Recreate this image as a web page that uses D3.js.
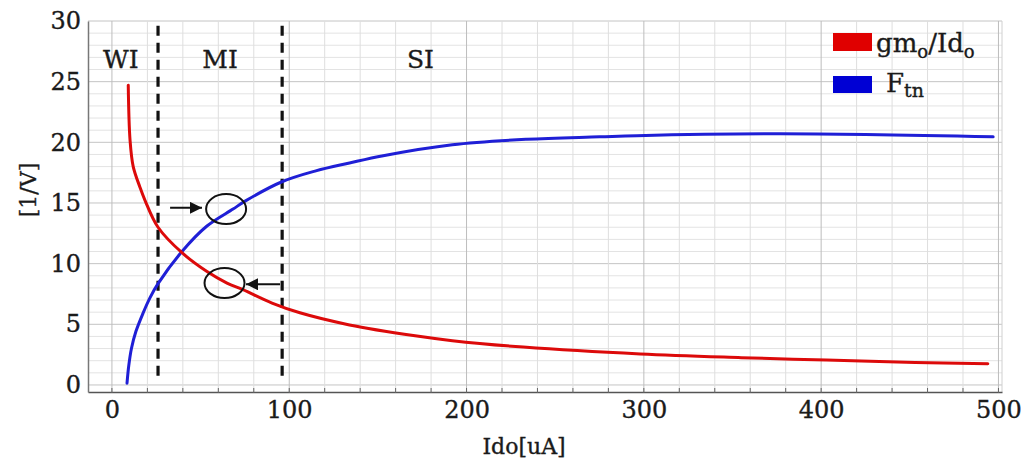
<!DOCTYPE html>
<html>
<head>
<meta charset="utf-8">
<script src="https://cdn.jsdelivr.net/npm/d3@7"></script>
<style>
  body { margin: 0; background: #fff; }
  svg { display: block; }
  text { font-family: "DejaVu Serif", "Liberation Serif", serif; fill: #1a1a1a; stroke: #1a1a1a; stroke-width: 0.35px; }
</style>
</head>
<body>
<svg id="chart"></svg>
<script>
// ---- data ----
// gm/Id curve (red)
const gmX = [9.2, 10.2, 12.0, 15.8, 18.7, 26, 39.5, 53.6, 64.9, 73.9, 90.3, 106, 134, 171, 192, 232, 298, 355, 403, 453, 494];
const gmY = [24.7, 20.2, 18.0, 16.3, 15.2, 13.0, 10.9, 9.35, 8.4, 7.85, 6.75, 5.95, 4.95, 4.05, 3.65, 3.12, 2.55, 2.25, 2.05, 1.85, 1.75];
// Ftn curve (blue)
const ftX = [8.5, 9.5, 11, 13.5, 17.5, 21.5, 26, 39.5, 53.6, 68.3, 75.1, 95.9, 115, 134, 153, 192, 234, 275, 296, 377, 497];
const ftY = [0.15, 1.6, 3.0, 4.4, 5.9, 7.2, 8.35, 11.0, 13.1, 14.5, 15.15, 16.75, 17.65, 18.3, 18.9, 19.8, 20.25, 20.45, 20.55, 20.7, 20.45];

const xTicks = [0, 100, 200, 300, 400, 500];
const yTicks = [0, 5, 10, 15, 20, 25, 30];

// region boundaries (dashed) and labels
const boundaries = [26, 96];
const regionNames = ["WI", "MI", "SI"];
const regionX = [5, 61, 174];

// circled points + arrows
const circleX = [64.4, 63.5];
const circleY = [14.5, 8.4];
const arrowFrom = [32.8, 94.8];
const arrowTo = [50.8, 75.6];
const arrowY = [14.6, 8.3];

const W = 1029, H = 464;
const red = "#dc0a0a", blue = "#1f1fd6";

const svg = d3.select("#chart").attr("width", W).attr("height", H);

const x = d3.scaleLinear().domain([-13.5, 502]).range([88, 1002]);
const y = d3.scaleLinear().domain([-0.58, 30]).range([392, 21]);

// grid
const grid = svg.append("g");
grid.selectAll(".hg").data(d3.range(0, 31, 1)).join("line")
  .attr("x1", x.range()[0]).attr("x2", x.range()[1])
  .attr("y1", d => y(d)).attr("y2", d => y(d))
  .attr("stroke", d => d % 5 === 0 ? "#c4c4c4" : "#e3e3e3")
  .attr("stroke-width", 1);
grid.selectAll(".vg").data(d3.range(0, 501, 20)).join("line")
  .attr("x1", d => x(d)).attr("x2", d => x(d))
  .attr("y1", y(30)).attr("y2", y.range()[0])
  .attr("stroke", d => d % 100 === 0 ? "#bdbdbd" : "#dedede")
  .attr("stroke-width", 1);
grid.append("line")
  .attr("x1", x.range()[1]).attr("x2", x.range()[1])
  .attr("y1", y(30)).attr("y2", y.range()[0])
  .attr("stroke", "#d0d0d0");

// axes
const xAxis = d3.axisBottom(x).tickValues(xTicks).tickSize(0).tickPadding(6);
const gx = svg.append("g").attr("transform", `translate(0,${y.range()[0]})`).call(xAxis);
gx.select(".domain").attr("stroke", "#555").attr("stroke-width", 1.5);
gx.selectAll(".tick text").attr("font-size", 24).attr("font-family", "DejaVu Serif").attr("fill", "#1a1a1a").attr("dy", "0.85em");

// small minor ticks on x axis
svg.append("g").selectAll("line").data(d3.range(0, 501, 20)).join("line")
  .attr("x1", d => x(d)).attr("x2", d => x(d))
  .attr("y1", y.range()[0] - 4).attr("y2", y.range()[0] + 1)
  .attr("stroke", "#666").attr("stroke-width", 1);

const yAxis = d3.axisLeft(y).tickValues(yTicks).tickSize(0).tickPadding(7);
const gy = svg.append("g").attr("transform", `translate(${x.range()[0]},0)`).call(yAxis);
gy.select(".domain").attr("stroke", "#777").attr("stroke-width", 1.5);
gy.selectAll(".tick text").attr("font-size", 24).attr("font-family", "DejaVu Serif").attr("fill", "#1a1a1a");

// axis titles
svg.append("text")
  .attr("x", 524).attr("y", 454)
  .attr("text-anchor", "middle")
  .attr("font-size", 22)
  .text("Ido[uA]");
svg.append("text")
  .attr("transform", "translate(28,190) rotate(-90)")
  .attr("text-anchor", "middle")
  .attr("dominant-baseline", "central")
  .attr("font-size", 22)
  .text("[1/V]");

// dashed region boundaries
svg.append("g").selectAll("line").data(boundaries).join("line")
  .attr("x1", d => x(d)).attr("x2", d => x(d))
  .attr("y1", y(29.6)).attr("y2", y(0.6))
  .attr("stroke", "#111").attr("stroke-width", 3.2)
  .attr("stroke-dasharray", "10,7");

// region labels
svg.append("g").selectAll("text").data(regionNames).join("text")
  .attr("x", (d, i) => x(regionX[i])).attr("y", y(26.1))
  .attr("text-anchor", "middle")
  .attr("font-size", 25)
  .text(d => d);

// curves
const line = d3.line().x(d => x(d[0])).y(d => y(d[1])).curve(d3.curveCatmullRom.alpha(0.5));
svg.append("path").datum(d3.zip(ftX, ftY))
  .attr("d", line).attr("fill", "none")
  .attr("stroke", blue).attr("stroke-width", 3).attr("stroke-linecap", "round");
svg.append("path").datum(d3.zip(gmX, gmY))
  .attr("d", line).attr("fill", "none")
  .attr("stroke", red).attr("stroke-width", 3).attr("stroke-linecap", "round");

// circles
svg.append("g").selectAll("ellipse").data(circleX).join("ellipse")
  .attr("cx", d => x(d)).attr("cy", (d, i) => y(circleY[i]))
  .attr("rx", 20).attr("ry", 15)
  .attr("fill", "none").attr("stroke", "#111").attr("stroke-width", 2);

// arrows
svg.append("defs").append("marker")
  .attr("id", "head").attr("viewBox", "0 0 10 10")
  .attr("refX", 10).attr("refY", 5)
  .attr("markerWidth", 18).attr("markerHeight", 12)
  .attr("markerUnits", "userSpaceOnUse")
  .attr("orient", "auto")
  .append("path").attr("d", "M0,0 L10,5 L0,10 Z").attr("fill", "#111");
svg.append("g").selectAll("line").data(arrowFrom).join("line")
  .attr("x1", d => x(d)).attr("x2", (d, i) => x(arrowTo[i]))
  .attr("y1", (d, i) => y(arrowY[i])).attr("y2", (d, i) => y(arrowY[i]))
  .attr("stroke", "#111").attr("stroke-width", 2)
  .attr("marker-end", "url(#head)");

// legend
const legend = svg.append("g");
legend.append("rect").attr("x", 833).attr("y", 33).attr("width", 39).attr("height", 18).attr("fill", "#e00000");
legend.append("rect").attr("x", 833).attr("y", 76).attr("width", 39).attr("height", 17).attr("fill", "#0000d4");
const t1 = legend.append("text").attr("x", 876).attr("y", 52).attr("font-size", 26);
t1.append("tspan").text("gm");
t1.append("tspan").attr("font-size", 18).attr("dy", 6).text("o");
t1.append("tspan").attr("dy", -6).text("/Id");
t1.append("tspan").attr("font-size", 18).attr("dy", 6).text("o");
const t2 = legend.append("text").attr("x", 886).attr("y", 92).attr("font-size", 26);
t2.append("tspan").text("F");
t2.append("tspan").attr("font-size", 19).attr("dy", 5).text("tn");
</script>
</body>
</html>
